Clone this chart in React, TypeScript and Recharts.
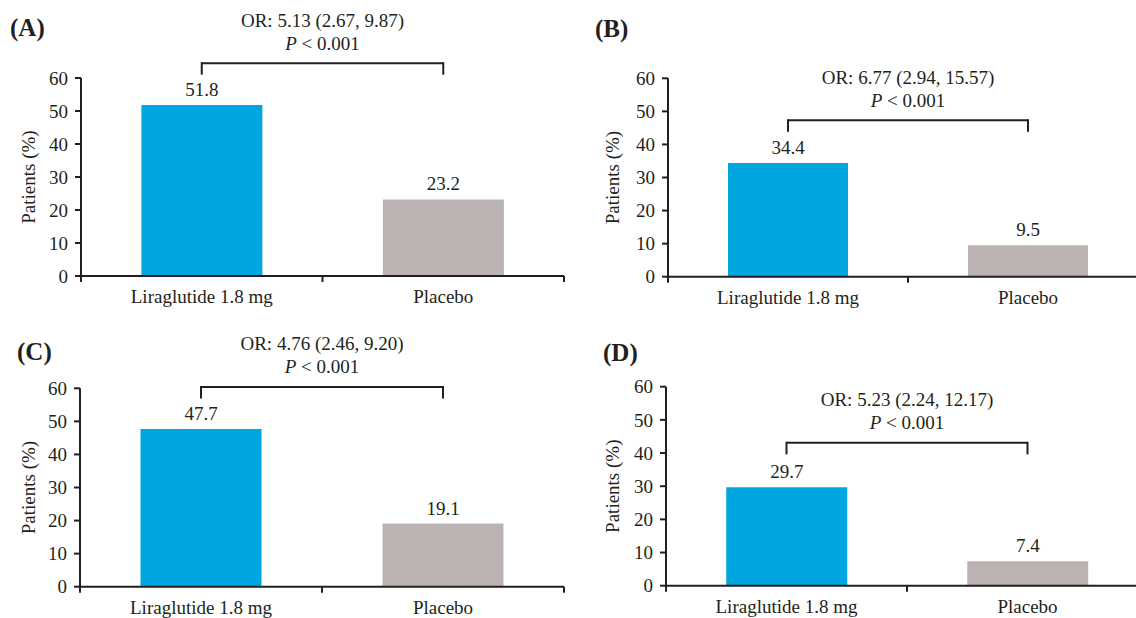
import { BarChart, Bar, XAxis, YAxis, Cell, LabelList, ReferenceLine } from 'recharts';

const groups = ['Liraglutide 1.8 mg', 'Placebo'];
const panelLetters = ['(A)', '(B)', '(C)', '(D)'];
const liraglutidePct = [51.8, 34.4, 47.7, 29.7];
const placeboPct = [23.2, 9.5, 19.1, 7.4];
const oddsRatioText = [
  'OR: 5.13 (2.67, 9.87)',
  'OR: 6.77 (2.94, 15.57)',
  'OR: 4.76 (2.46, 9.20)',
  'OR: 5.23 (2.24, 12.17)',
];
const pValueText = ['< 0.001', '< 0.001', '< 0.001', '< 0.001'];
const bracketLevels = [64.5, 47.3, 60.4, 43.1];
const yTicks = [0, 10, 20, 30, 40, 50, 60];

const INK = '#231f20';
const BAR_COLORS = ['#00a6df', '#bbb3b1'];
const FONT = '"Liberation Serif", "Times New Roman", serif';
const FONT_SIZE = 19;
const Y_AXIS_WIDTH = 62;
const X_AXIS_HEIGHT = 30;
const BRACKET_DROP = 3.5;

// where each panel sits on the page
const layouts = [
  { left: 0, top: 0, width: 568, height: 309, margin: { top: 78, right: 4, bottom: 3, left: 19 }, titleOffset: 9, letter: { left: 10, top: 15 } },
  { left: 568, top: 0, width: 582, height: 309, margin: { top: 78.3, right: 2, bottom: 2.3, left: 38 }, titleOffset: 6, letter: { left: 595, top: 16 } },
  { left: 0, top: 309, width: 568, height: 309, margin: { top: 79.3, right: 4, bottom: 1.3, left: 18 }, titleOffset: 10, letter: { left: 17, top: 339 } },
  { left: 568, top: 309, width: 582, height: 309, margin: { top: 77.7, right: 2, bottom: 2.3, left: 36 }, titleOffset: 8.5, letter: { left: 603, top: 340 } },
];

const CategoryTick = (props: any) => {
  const { x, y, payload, index, band, count } = props;
  const edge = (ex: number) => (
    <line x1={ex} x2={ex} y1={y} y2={y + 6} stroke={INK} strokeWidth={2} />
  );
  return (
    <g>
      {edge(x - band / 2)}
      {index === count - 1 && edge(x + band / 2)}
      <text x={x} y={y + 27} textAnchor="middle" fontSize={FONT_SIZE} fontFamily={FONT} fill={INK}>
        {payload.value}
      </text>
    </g>
  );
};

const BracketLabel = (props: any) => {
  const { viewBox, orText, pText } = props;
  const vb = viewBox || {};
  const cx = vb.x1 != null && vb.x2 != null ? (vb.x1 + vb.x2) / 2 : vb.x + (vb.width || 0) / 2;
  const cy = vb.y1 != null ? Math.min(vb.y1, vb.y2) : vb.y;
  return (
    <g fontSize={FONT_SIZE} fontFamily={FONT} fill={INK}>
      <text x={cx} y={cy - 43 + 6.5} textAnchor="middle">{orText}</text>
      <text x={cx} y={cy - 20 + 6.5} textAnchor="middle">
        <tspan fontStyle="italic">P</tspan> {pText}
      </text>
    </g>
  );
};

const Panel = ({ i }: { i: number }) => {
  const L = layouts[i];
  const data = groups.map((g, k) => ({ group: g, value: k === 0 ? liraglutidePct[i] : placeboPct[i] }));
  const plotWidth = L.width - L.margin.left - L.margin.right - Y_AXIS_WIDTH;
  const band = plotWidth / groups.length;
  const level = bracketLevels[i];

  return (
    <div style={{ position: 'absolute', left: L.left, top: L.top }}>
      <BarChart width={L.width} height={L.height} data={data} margin={L.margin} barCategoryGap="25%">
        <XAxis
          xAxisId="cat"
          dataKey="group"
          interval={0}
          height={X_AXIS_HEIGHT}
          tickSize={0}
          tickMargin={0}
          tickLine={false}
          axisLine={{ stroke: INK, strokeWidth: 2 }}
          tick={<CategoryTick band={band} count={groups.length} />}
        />
        <YAxis
          width={Y_AXIS_WIDTH}
          domain={[0, 60]}
          ticks={yTicks}
          interval={0}
          tickSize={6}
          tickMargin={7}
          axisLine={{ stroke: INK, strokeWidth: 2 }}
          tickLine={{ stroke: INK, strokeWidth: 2 }}
          tick={{ fontSize: FONT_SIZE, fontFamily: FONT, fill: INK }}
          label={{
            value: 'Patients (%)',
            angle: -90,
            position: 'insideLeft',
            offset: L.titleOffset,
            style: { textAnchor: 'middle', fontSize: FONT_SIZE, fontFamily: FONT, fill: INK },
          }}
        />
        <Bar xAxisId="cat" dataKey="value" isAnimationActive={false}>
          {data.map((d, k) => (
            <Cell key={d.group} fill={BAR_COLORS[k]} />
          ))}
          <LabelList dataKey="value" position="top" offset={9} fontSize={FONT_SIZE} fontFamily={FONT} fill={INK} />
        </Bar>
        <ReferenceLine
          xAxisId="cat"
          ifOverflow="visible"
          segment={[{ x: groups[0], y: level }, { x: groups[1], y: level }]}
          stroke={INK}
          strokeWidth={2}
          label={<BracketLabel orText={oddsRatioText[i]} pText={pValueText[i]} />}
        />
        {groups.map((g) => (
          <ReferenceLine
            key={g}
            xAxisId="cat"
            ifOverflow="visible"
            segment={[{ x: g, y: level + 0.3 }, { x: g, y: level - BRACKET_DROP }]}
            stroke={INK}
            strokeWidth={2}
          />
        ))}
      </BarChart>
    </div>
  );
};

export default function App() {
  return (
    <div
      style={{
        position: 'absolute',
        left: 0,
        top: 0,
        width: 1136,
        height: 618,
        overflow: 'hidden',
        background: '#fff',
      }}
    >
      {panelLetters.map((letter, i) => (
        <div
          key={letter}
          style={{
            position: 'absolute',
            left: layouts[i].letter.left,
            top: layouts[i].letter.top,
            fontFamily: FONT,
            fontWeight: 'bold',
            fontSize: 25,
            lineHeight: 1,
            color: INK,
          }}
        >
          {letter}
        </div>
      ))}
      {panelLetters.map((letter, i) => (
        <Panel key={`panel-${letter}`} i={i} />
      ))}
    </div>
  );
}
